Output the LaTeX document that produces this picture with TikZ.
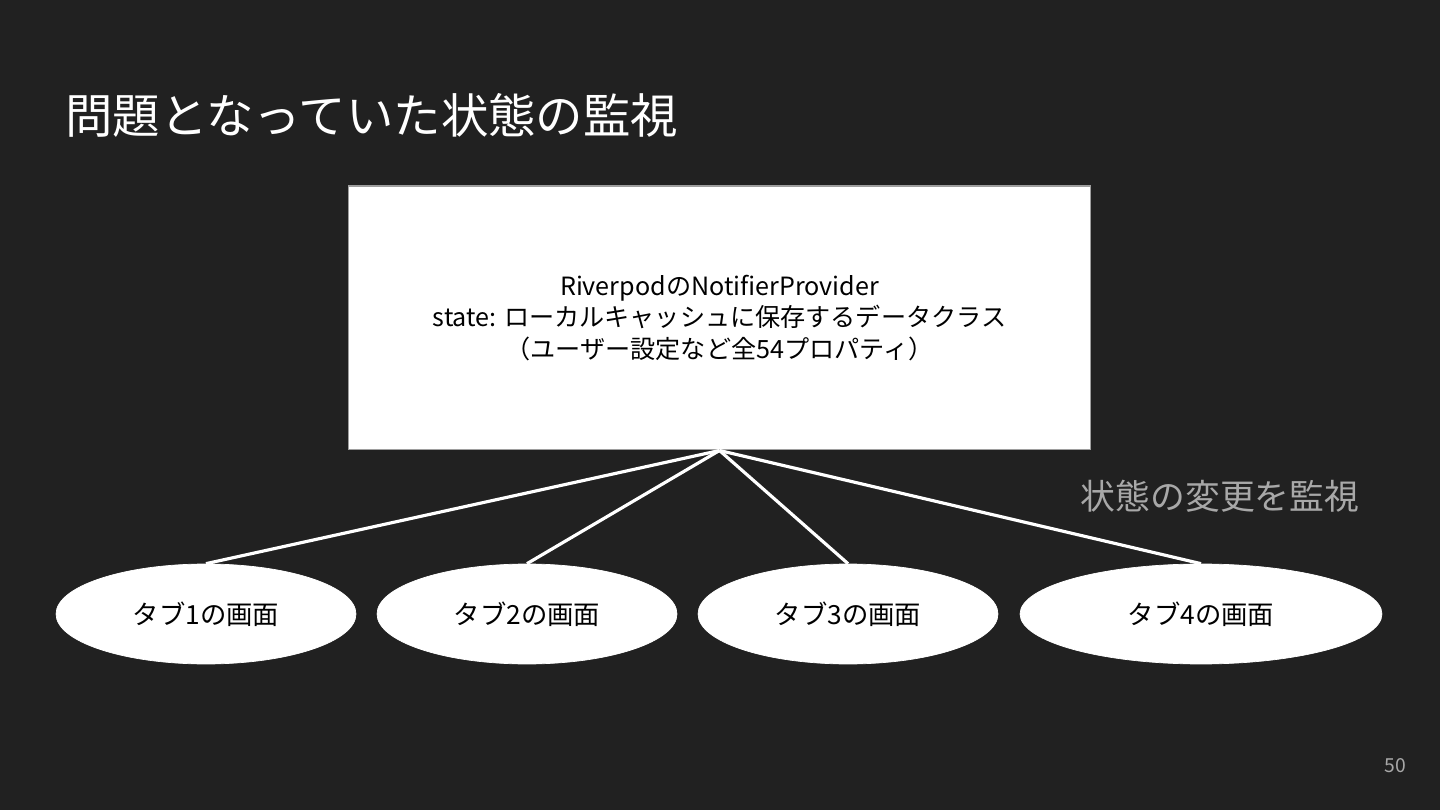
\documentclass[tikz,border=0pt]{standalone}
\usepackage{fontspec}
\setmainfont{Noto Sans CJK JP}
\usetikzlibrary{shapes.geometric}
\definecolor{slidebg}{HTML}{212121}
\definecolor{notegray}{HTML}{A8A8A8}
\definecolor{edgegray}{HTML}{9E9E9E}

\begin{document}
\begin{tikzpicture}[x=0.02cm,y=-0.02cm,
    screen/.style={ellipse,fill=white,draw=white,minimum width=6cm,minimum height=2cm,
      font=\fontsize{15}{18}\selectfont},
    watch/.style={draw=white,line width=1.8pt}]
  \fill[slidebg] (0,0) rectangle (1440,810);
  \node[anchor=west,text=white,inner sep=0pt,font=\fontsize{27}{30}\selectfont] (title) at (65,115) {問題となっていた状態の監視};
  % provider box
  \node[draw=edgegray,fill=white,line width=0.6pt,minimum width=14.86cm,minimum height=5.28cm,
    align=center,font=\fontsize{14.3}{18}\selectfont] (provider) at (719.5,318)
    {RiverpodのNotifierProvider\\state: ローカルキャッシュに保存するデータクラス\\（ユーザー設定など全54プロパティ）};
  % tab screens
  \node[screen] (tab1) at (206,614) {タブ1の画面};
  \node[screen] (tab2) at (527,614) {タブ2の画面};
  \node[screen] (tab3) at (848,614) {タブ3の画面};
  \node[screen,minimum width=7.24cm] (tab4) at (1201,614) {タブ4の画面};
  \draw[watch] (provider.south) -- (tab1.north);
  \draw[watch] (provider.south) -- (tab2.north);
  \draw[watch] (provider.south) -- (tab3.north);
  \draw[watch] (provider.south) -- (tab4.north);
  \node[text=notegray,font=\fontsize{19.8}{24}\selectfont] (note) at (1220,496) {状態の変更を監視};
  \node[text=notegray,font=\fontsize{11}{13}\selectfont] (page) at (1395,766) {50};
\end{tikzpicture}
\end{document}
